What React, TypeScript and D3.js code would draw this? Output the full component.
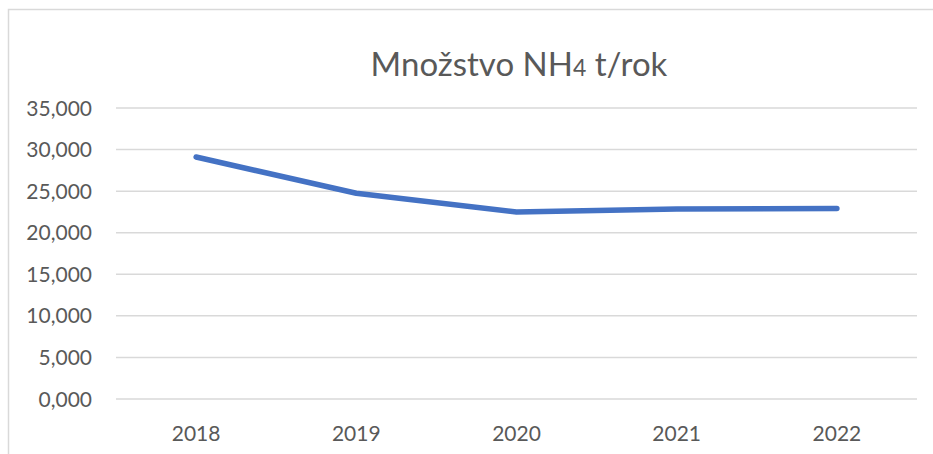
import React from "react";
import * as d3 from "d3";

const years = ["2018", "2019", "2020", "2021", "2022"];
const values = [29100, 24750, 22500, 22850, 22920];
const yTicks = [0, 5000, 10000, 15000, 20000, 25000, 30000, 35000];

const W = 933;
const H = 454;
const margin = { left: 116, right: 16, top: 108, bottom: 55 };

export default function App() {
  const x = d3
    .scaleBand<string>()
    .domain(years)
    .range([margin.left, W - margin.right])
    .paddingInner(0)
    .paddingOuter(0);
  const y = d3
    .scaleLinear()
    .domain([0, 35000])
    .range([H - margin.bottom, margin.top]);

  const line = d3
    .line<number>()
    .x((_, i) => (x(years[i]) as number) + x.bandwidth() / 2)
    .y((d) => y(d));

  const fmt = (v: number) => {
    const s = d3.format(",.3f")(v / 1000);
    return s.replace(".", ",");
  };

  const font = "Lato, 'Open Sans', sans-serif";
  const textColor = "#595959";

  return (
    <svg
      width={W}
      height={H}
      style={{ position: "absolute", left: 0, top: 0, background: "#fff" }}
    >
      <rect x={8.5} y={9.5} width={W + 10} height={H + 10} fill="#fff" stroke="#d9d9d9" strokeWidth={1.5} />
      <text
        x={519}
        y={76}
        textAnchor="middle"
        fontFamily={font}
        fontSize={33}
        fill={textColor}
      >
        Množstvo NH<tspan fontSize={23}>4</tspan> t/rok
      </text>
      {yTicks.map((t) => (
        <g key={t}>
          <line
            x1={margin.left}
            x2={W - margin.right}
            y1={y(t)}
            y2={y(t)}
            stroke="#d9d9d9"
            strokeWidth={1.5}
          />
          <text
            x={92}
            y={y(t)}
            dy="0.36em"
            textAnchor="end"
            fontFamily={font}
            fontSize={21}
            fill={textColor}
          >
            {fmt(t)}
          </text>
        </g>
      ))}
      {years.map((yr) => (
        <text
          key={yr}
          x={(x(yr) as number) + x.bandwidth() / 2}
          y={441}
          textAnchor="middle"
          fontFamily={font}
          fontSize={21}
          fill={textColor}
        >
          {yr}
        </text>
      ))}
      <path
        d={line(values) || ""}
        fill="none"
        stroke="#4472C4"
        strokeWidth={5.5}
        strokeLinecap="round"
        strokeLinejoin="round"
      />
    </svg>
  );
}
